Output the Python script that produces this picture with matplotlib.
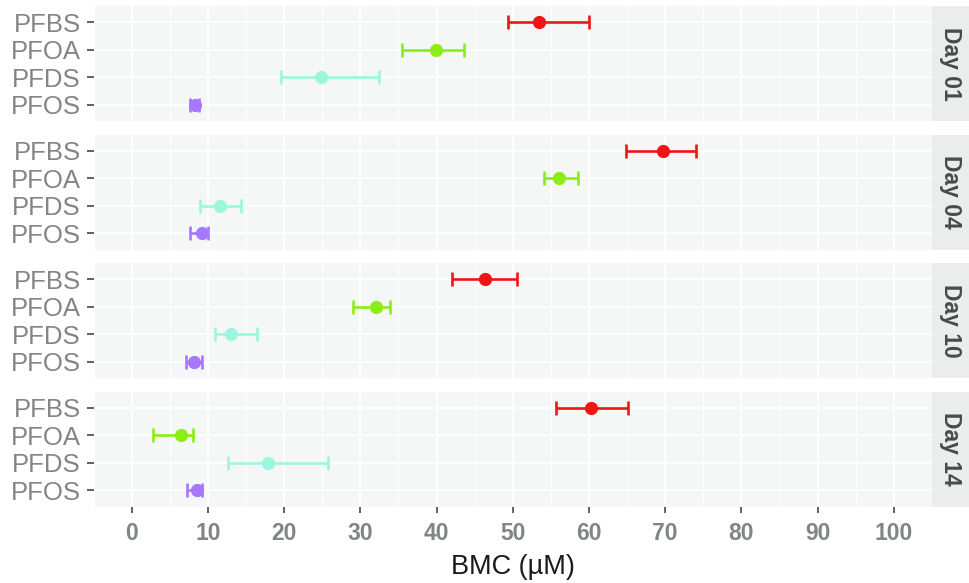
"""BMC estimates per compound, faceted by exposure day."""

import matplotlib
matplotlib.use("Agg")
import matplotlib.pyplot as plt
from matplotlib.ticker import MultipleLocator

plt.rcParams["font.family"] = ["Liberation Sans", "DejaVu Sans"]

# Data, order: PFBS, PFOA, PFDS, PFOS
compounds = ["PFBS", "PFOA", "PFDS", "PFOS"]
days = ["Day 01", "Day 04", "Day 10", "Day 14"]

bmc_day01 = [53.5, 39.9, 24.8, 8.3]
low_day01 = [49.4, 35.5, 19.6, 7.6]
high_day01 = [60.0, 43.6, 32.5, 8.8]

bmc_day04 = [69.7, 56.1, 11.6, 9.2]
low_day04 = [64.8, 54.1, 9.0, 7.7]
high_day04 = [74.1, 58.6, 14.4, 10.0]

bmc_day10 = [46.4, 32.1, 13.0, 8.2]
low_day10 = [42.0, 29.1, 10.9, 7.1]
high_day10 = [50.5, 33.9, 16.4, 9.2]

bmc_day14 = [60.3, 6.5, 17.9, 8.6]
low_day14 = [55.7, 2.8, 12.6, 7.3]
high_day14 = [65.1, 8.0, 25.7, 9.2]

colors = ["#F01515", "#8AEE14", "#9CF6DE", "#A877FF"]

bmc = [bmc_day01, bmc_day04, bmc_day10, bmc_day14]
low = [low_day01, low_day04, low_day10, low_day14]
high = [high_day01, high_day04, high_day10, high_day14]

W, H = 969, 583
fig = plt.figure(figsize=(W / 100, H / 100), dpi=100)

# panel geometry in pixels
left, right = 93.5, 932
top0, panel_h, gap = 6, 115, 13.5
strip_w = 37

panel_bg = "#F5F7F7"
strip_bg = "#EBEDED"
tick_grey = "#808585"

for i, day in enumerate(days):
    top = top0 + i * (panel_h + gap)
    ax = fig.add_axes([left / W, 1 - (top + panel_h) / H, (right - left) / W, panel_h / H])
    ax.set_facecolor(panel_bg)
    for s in ax.spines.values():
        s.set_visible(False)

    ax.set_xlim(-5, 105)
    ax.set_ylim(-0.6, 3.6)
    ax.xaxis.set_major_locator(MultipleLocator(10))
    ax.xaxis.set_minor_locator(MultipleLocator(5))
    ax.grid(True, which="major", color="white", linewidth=1.4)
    ax.grid(True, which="minor", axis="x", color="white", linewidth=0.8)
    ax.set_axisbelow(True)

    ypos = [3 - k for k in range(len(compounds))]
    ax.set_yticks(ypos)
    ax.set_yticklabels(compounds, fontsize=18.5, color="#858585")
    ax.tick_params(axis="y", length=5, width=1.3, color="#555555", pad=4)

    for k in range(len(compounds)):
        c = bmc[i][k]
        ax.errorbar(c, ypos[k],
                    xerr=[[c - low[i][k]], [high[i][k] - c]],
                    fmt="o", color=colors[k], ecolor=colors[k],
                    markersize=8.5, elinewidth=1.9, capsize=5, capthick=1.9,
                    zorder=3)

    if i == len(days) - 1:
        ax.tick_params(axis="x", which="major", length=4.5, width=1.3,
                       color="#555555", pad=7, labelsize=16.5, labelcolor=tick_grey)
        for lab in ax.get_xticklabels():
            lab.set_fontweight("bold")
        ax.tick_params(axis="x", which="minor", length=0)
        ax.set_xlabel("BMC (µM)", fontsize=19.5, color="#1A1A1A", labelpad=6)
    else:
        ax.tick_params(axis="x", which="both", length=0, labelbottom=False)

    # facet strip on the right
    sax = fig.add_axes([right / W, 1 - (top + panel_h) / H, strip_w / W, panel_h / H])
    sax.set_facecolor(strip_bg)
    sax.set_xticks([])
    sax.set_yticks([])
    for s in sax.spines.values():
        s.set_visible(False)
    sax.text(0.5, 0.5, day, rotation=-90, ha="center", va="center",
             fontsize=16.5, fontweight="bold", color="#4A4A4A",
             transform=sax.transAxes)

fig.savefig("out.png", dpi=100)
